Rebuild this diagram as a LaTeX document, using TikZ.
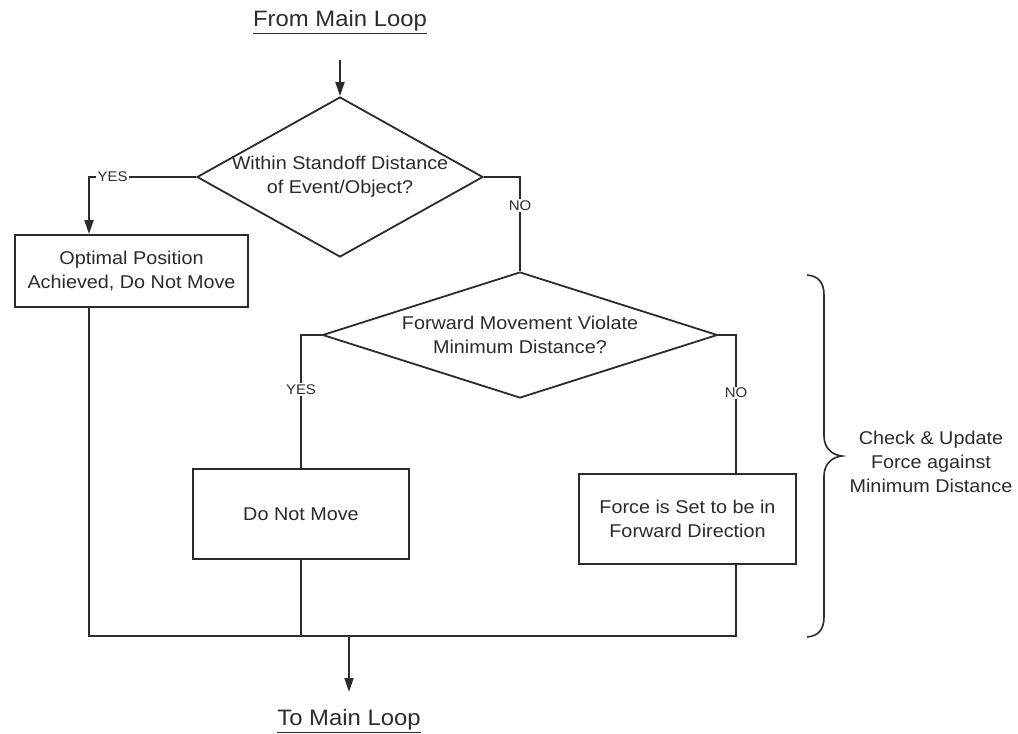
\documentclass[tikz,border=0pt]{standalone}
\usepackage{fontspec}
\setmainfont[FakeStretch=1.07]{Liberation Sans}
\usetikzlibrary{shapes.geometric,arrows.meta}
\definecolor{ink}{HTML}{2B2B2B}
\newcommand\fcBody{\fontsize{18.5}{24}\selectfont}
\newcommand\fcTag{\fontsize{14}{16}\selectfont}
\newcommand\fcTitle{\fontsize{22.3}{26}\selectfont}
\begin{document}
\begin{tikzpicture}[x=1pt,y=-1pt,
  every node/.style={text=ink},
  flow/.style={draw=ink,line width=1.8pt},
  arrowline/.style={flow,-{Triangle[length=14pt,width=9pt]}},
  box/.style={draw=ink,line width=1.8pt,fill=white,align=center,inner sep=0pt,font=\fcBody},
  decision/.style={diamond,draw=ink,line width=1.8pt,inner sep=0pt},
  qtext/.style={align=center,font=\fcBody},
  tag/.style={fill=white,inner sep=1.5pt,font=\fcTag},
  terminal/.style={font=\fcTitle}]
\useasboundingbox (0,0) rectangle (1018,734);

% entry and exit labels
\node[terminal] (from) at (340,22) {\underline{From Main Loop}};
\node[terminal] (to) at (349,721) {\underline{To Main Loop}};
\coordinate (inArrow) at (340,60);
\coordinate (bus) at (349,636);
\coordinate (outArrow) at (349,692);

% decisions
\node[decision,minimum width=286pt,minimum height=160pt,
  label={[qtext]center:Within Standoff Distance\\of Event/Object?}] (d1) at (340,177) {};
\node[decision,minimum width=395pt,minimum height=126pt,
  label={[qtext]center:Forward Movement Violate\\Minimum Distance?}] (d2) at (520,335) {};

% process boxes
\node[box,minimum width=233pt,minimum height=72pt] (b1) at (131.5,271) {Optimal Position\\Achieved, Do Not Move};
\node[box,minimum width=216pt,minimum height=90pt] (b2) at (301,514) {Do Not Move};
\node[box,minimum width=217pt,minimum height=90pt] (b3) at (687.5,519) {Force is Set to be in\\Forward Direction};

% connectors
\draw[arrowline] (inArrow) -- (d1.north);
\draw[arrowline] (d1.west) -| node[tag,pos=0.39] {YES} ([xshift=-42.5pt]b1.north);
\draw[flow] (d1.east) -| node[tag,pos=0.65] {NO} (d2.north);
\draw[flow] (d2.west) -| node[tag,pos=0.705] {YES} (b2.north);
\draw[flow] (d2.east) -| node[tag,pos=0.71] {NO} ([xshift=48.5pt]b3.north);
\draw[flow] ([xshift=-42.5pt]b1.south) |- (bus) -| ([xshift=48.5pt]b3.south);
\draw[flow] (b2.south) -- (b2.south |- bus);
\draw[arrowline] (bus) -- (outArrow);

% brace around the minimum distance check
\draw[draw=ink,line width=1.6pt] (807,275) .. controls (818,276) and (824,282) .. (824,295)
  -- (824,436) .. controls (824,448) and (832,455) .. (842,456)
  .. controls (832,457) and (824,464) .. (824,476)
  -- (824,617) .. controls (824,630) and (818,636) .. (807,637);
\node[qtext] (bracetext) at (931,462) {Check \& Update\\Force against\\Minimum Distance};
\end{tikzpicture}
\end{document}
